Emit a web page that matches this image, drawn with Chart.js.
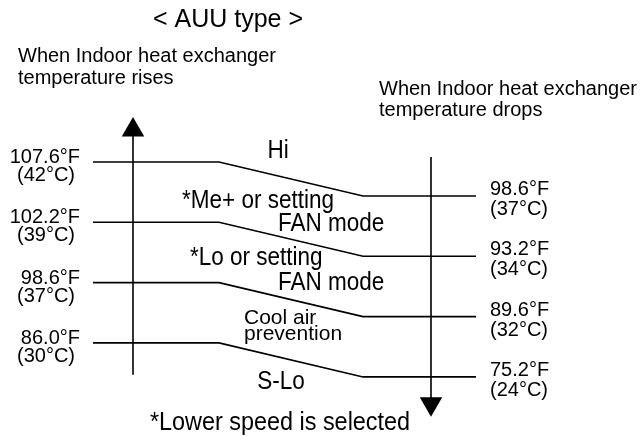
<!DOCTYPE html>
<html>
<head>
<meta charset="utf-8">
<script src="https://cdn.jsdelivr.net/npm/chart.js@4"></script>
<style>
  html, body { margin: 0; padding: 0; background: #fff; }
  #wrap { width: 641px; height: 436px; }
</style>
</head>
<body>
<div id="wrap"><canvas id="c" width="641" height="436"></canvas></div>
<script>
// Texts and values
const title = '< AUU type >';
const riseCaption = ['When Indoor heat exchanger', 'temperature rises'];
const dropCaption = ['When Indoor heat exchanger', 'temperature drops'];
const riseF = ['107.6°F', '102.2°F', '98.6°F', '86.0°F'];
const riseC = ['(42°C)', '(39°C)', '(37°C)', '(30°C)'];
const dropF = ['98.6°F', '93.2°F', '89.6°F', '75.2°F'];
const dropC = ['(37°C)', '(34°C)', '(32°C)', '(24°C)'];
const modes = [
  ['Hi'],
  ['*Me+ or setting', 'FAN mode'],
  ['*Lo or setting', 'FAN mode'],
  ['Cool air', 'prevention'],
  ['S-Lo'],
];
const footnote = '*Lower speed is selected';

// Geometry of the schematic (x in diagram units, y in threshold levels)
const X = { left: 93, bend1: 219, bend2: 363, right: 476, up: 133, down: 431 };
const DROP = 0.564; // right end sits this many levels lower
const FONT = 'Liberation Sans, Arial, sans-serif';

// where each mode text sits: [x, level, align, size, xstretch] per line
const modeLayout = [
  [[278, -0.066, 'center', 25, 0.9]],
  [[182, 0.763, 'left', 25, 0.9], [278, 1.144, 'left', 25, 0.9]],
  [[190, 1.708, 'left', 25, 0.9], [278, 2.123, 'left', 25, 0.9]],
  [[244, 2.687, 'left', 21, 1], [244, 2.952, 'left', 21, 1]],
  [[281, 3.764, 'center', 25, 0.9]],
];

const black = '#000';

const stepLines = riseF.map((_, i) => ({
  data: [
    { x: X.left, y: i },
    { x: X.bend1, y: i },
    { x: X.bend2, y: i + DROP },
    { x: X.right, y: i + DROP },
  ],
  showLine: true,
  borderColor: black,
  borderWidth: 1.6,
  pointRadius: 0,
  tension: 0,
}));

const arrows = [
  { data: [{ x: X.up, y: 3.53 }, { x: X.up, y: -0.6 }], showLine: true, borderColor: black, borderWidth: 1.6, pointRadius: 0 },
  { data: [{ x: X.down, y: -0.083 }, { x: X.down, y: 4.0 }], showLine: true, borderColor: black, borderWidth: 1.6, pointRadius: 0 },
  { data: [{ x: X.up, y: -0.53 }], pointStyle: 'triangle', rotation: 0, pointRadius: 13, backgroundColor: black, borderWidth: 0 },
  { data: [{ x: X.down, y: 4.01 }], pointStyle: 'triangle', rotation: 180, pointRadius: 13, backgroundColor: black, borderWidth: 0 },
];

const textPlugin = {
  id: 'diagramText',
  afterDatasetsDraw(chart) {
    const { ctx } = chart;
    const px = (v) => chart.scales.x.getPixelForValue(v);
    const py = (v) => chart.scales.y.getPixelForValue(v);
    const put = (txt, x, y, align, size, sx = 1) => {
      ctx.save();
      ctx.font = `${size}px ${FONT}`;
      ctx.textAlign = align;
      ctx.translate(x, y);
      ctx.scale(sx, 1);
      ctx.fillText(txt, 0, 0);
      ctx.restore();
    };
    ctx.save();
    ctx.fillStyle = black;
    ctx.textBaseline = 'alphabetic';

    put(title, px(228), 27, 'center', 25);
    riseCaption.forEach((t, k) => put(t, px(18), 62 + k * 22, 'left', 20));
    dropCaption.forEach((t, k) => put(t, px(379), 95 + k * 21, 'left', 20));

    riseF.forEach((t, i) => {
      put(t, px(80), py(i) + 1, 'right', 20);
      put(riseC[i], px(75), py(i) + 19, 'right', 20);
    });
    dropF.forEach((t, i) => {
      put(t, px(490), py(i + DROP) - 1, 'left', 20);
      put(dropC[i], px(490), py(i + DROP) + 19, 'left', 20);
    });

    modes.forEach((lines, m) => {
      lines.forEach((t, k) => {
        const [x, lvl, align, size, sx] = modeLayout[m][k];
        put(t, px(x), py(lvl), align, size, sx);
      });
    });

    put(footnote, px(280), 430, 'center', 26, 0.9);
    ctx.restore();
  },
};

new Chart(document.getElementById('c'), {
  type: 'scatter',
  data: { datasets: [...stepLines, ...arrows] },
  options: {
    responsive: false,
    animation: false,
    layout: { padding: 0, autoPadding: false },
    plugins: { legend: { display: false }, tooltip: { enabled: false }, title: { display: false } },
    scales: {
      x: { type: 'linear', display: false, min: 0, max: 641 },
      y: { type: 'linear', display: false, min: -2.687, max: 4.544, reverse: true },
    },
  },
  plugins: [textPlugin],
});
</script>
</body>
</html>
